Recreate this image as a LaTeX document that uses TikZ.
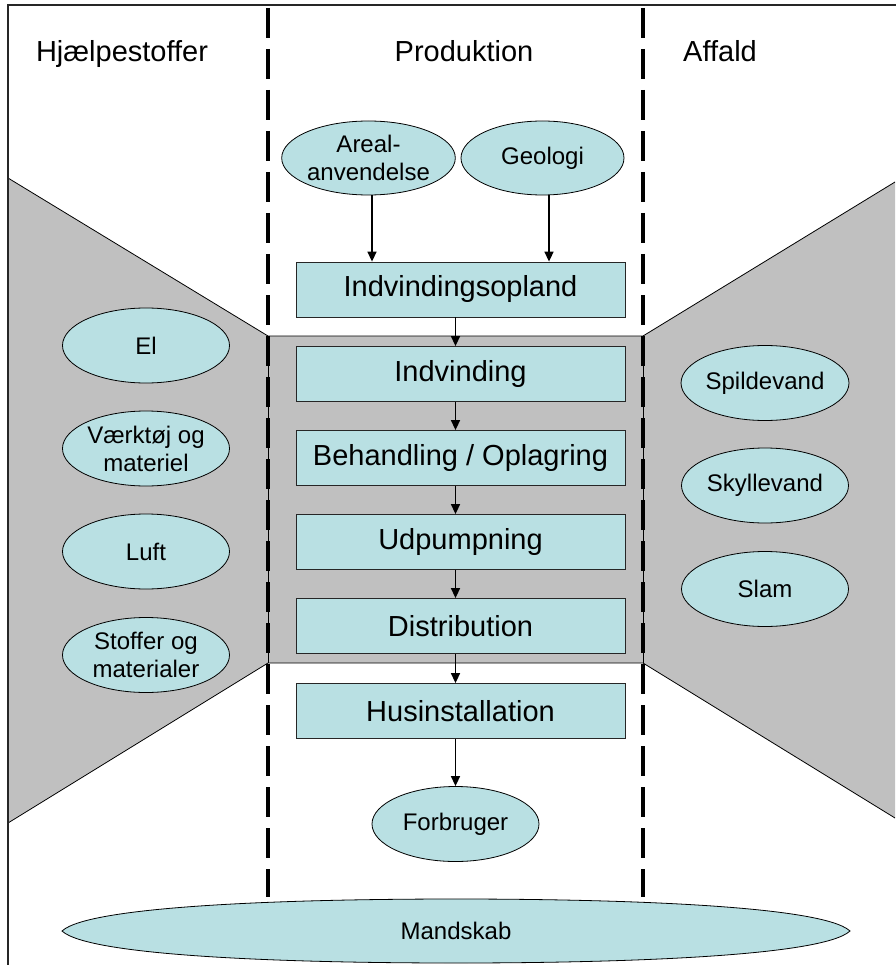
\documentclass[tikz,border=0pt]{standalone}
\usepackage{fontspec}
\setmainfont{Liberation Sans}
\usetikzlibrary{shapes.geometric,arrows.meta}
\definecolor{boxfill}{RGB}{185,224,227}
\definecolor{panelgray}{RGB}{192,192,192}
\begin{document}
\begin{tikzpicture}[x=1pt,y=-1pt,
  stage/.style={draw=black!85, line width=0.8pt, fill=boxfill, minimum width=329pt, minimum height=55pt, inner sep=0pt, font=\fontsize{29}{33}\selectfont},
  oval/.style={ellipse, draw=black, line width=0.8pt, fill=boxfill, minimum width=167pt, minimum height=75pt, inner sep=0pt, align=center, font=\fontsize{24}{28}\selectfont},
  header/.style={anchor=base, font=\fontsize{29}{33}\selectfont},
  flow/.style={-{Triangle[length=10pt,width=9pt]}, line width=1.5pt},
  divider/.style={line width=4pt, dash pattern=on 30pt off 11pt}]
\useasboundingbox (0,0) rectangle (895,965);
% shaded region
\fill[panelgray] (8,178) -- (268,336) -- (643,336) -- (895,182) -- (895,818) -- (643,663) -- (268,663) -- (8,823) -- cycle;
\draw[line width=0.8pt] (8,178) -- (268,336) -- (643,336) -- (895,182);
\draw[line width=0.8pt] (8,823) -- (268,663) -- (643,663) -- (895,818);
\draw[line width=0.8pt] (268,336) -- (268,663) (643,336) -- (643,663);
% frame
\draw[line width=1.8pt, black!85] (8,966) -- (8,5) -- (896,5);
% dividers
\draw[divider] (268,8) -- (268,897);
\draw[divider] (643,8) -- (643,897);
% headers
\node[header] (h1) at (122,62) {Hjælpestoffer};
\node[header] (h2) at (464,62) {Produktion};
\node[header] (h3) at (720,62) {Affald};
% production chain
\node[oval, minimum width=163pt, minimum height=74pt] (areal) at (368.5,158) {Areal-\\anvendelse};
\node[oval, minimum width=163pt, minimum height=74pt] (geo) at (542.5,158) {Geologi};
\node[stage] (s1) at (460.5,289.5) {Indvindingsopland};
\node[stage] (s2) at (460.5,374) {Indvinding};
\node[stage] (s3) at (460.5,458) {Behandling / Oplagring};
\node[stage] (s4) at (460.5,542) {Udpumpning};
\node[stage] (s5) at (460.5,626) {Distribution};
\node[stage] (s6) at (460.5,711) {Husinstallation};
\node[oval] (forb) at (455.5,824) {Forbruger};
\coordinate (ax) at (372,0);
\coordinate (gx) at (549,0);
\draw[flow] (areal.south -| ax) -- (s1.north -| ax);
\draw[flow] (geo.south -| gx) -- (s1.north -| gx);
\draw[flow] (s1.south -| forb) -- (s2.north -| forb);
\draw[flow] (s2.south -| forb) -- (s3.north -| forb);
\draw[flow] (s3.south -| forb) -- (s4.north -| forb);
\draw[flow] (s4.south -| forb) -- (s5.north -| forb);
\draw[flow] (s5.south -| forb) -- (s6.north -| forb);
\draw[flow] (s6.south -| forb) -- (forb.north);
% auxiliary inputs
\node[oval] (el) at (146,345.5) {El};
\node[oval] (vaerk) at (146,448.5) {Værktøj og\\materiel};
\node[oval] (luft) at (146,551.5) {Luft};
\node[oval] (stof) at (146,655) {Stoffer og\\materialer};
% waste
\node[oval] (spild) at (765,383) {Spildevand};
\node[oval] (skyl) at (765,485.5) {Skyllevand};
\node[oval] (slam) at (765,589) {Slam};
% staff
\draw[line width=0.8pt, fill=boxfill] (62,931) .. controls (90,905) and (300,899) .. (456,899)
  .. controls (612,899) and (822,905) .. (850,931)
  .. controls (822,957) and (612,963) .. (456,963)
  .. controls (300,963) and (90,957) .. (62,931) -- cycle;
\node[font=\fontsize{24}{28}\selectfont] (mand) at (456,931) {Mandskab};
\end{tikzpicture}
\end{document}
